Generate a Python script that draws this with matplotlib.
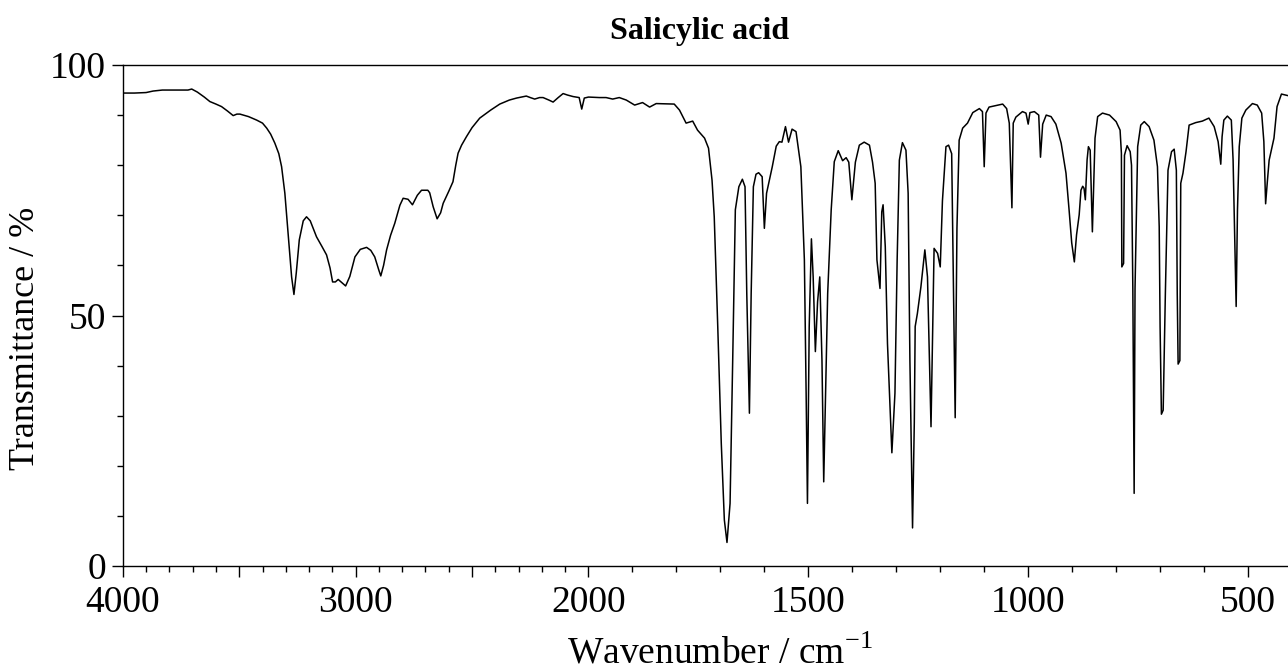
import matplotlib
matplotlib.use('Agg')
import matplotlib.pyplot as plt
import numpy as np
from matplotlib.ticker import FixedLocator, NullFormatter

plt.rcParams['font.family'] = ['Liberation Serif', 'DejaVu Serif']
plt.rcParams['mathtext.fontset'] = 'custom'
plt.rcParams['mathtext.rm'] = 'Liberation Serif'

# spectrum (wavenumber / cm-1, transmittance / %)
wavenumber = [
    4000, 3950, 3900, 3870, 3830, 3760, 3720, 3704, 3680, 3650, 3626, 3600, 3576, 3550,
    3526, 3510, 3497, 3460, 3425, 3400, 3382, 3365, 3347, 3330, 3318, 3304, 3290, 3275,
    3265, 3255, 3242, 3225, 3211, 3195, 3168, 3145, 3125, 3110, 3099, 3087, 3075, 3060,
    3043, 3025, 3003, 2980, 2953, 2935, 2918, 2900, 2892, 2880, 2867, 2850, 2832, 2810,
    2796, 2775, 2756, 2735, 2717, 2690, 2682, 2667, 2650, 2635, 2624, 2600, 2582, 2570,
    2560, 2545, 2524, 2500, 2467, 2420, 2381, 2340, 2309, 2267, 2250, 2231, 2210, 2195,
    2170, 2152, 2130, 2109, 2090, 2066, 2040, 2029, 2018, 2000, 1975, 1960, 1945, 1930,
    1914, 1895, 1877, 1861, 1846, 1805, 1793, 1778, 1763, 1752, 1736, 1727, 1719, 1714,
    1706, 1698, 1691, 1685, 1678, 1672, 1666, 1658, 1650, 1644, 1640, 1634, 1630, 1625,
    1619, 1613, 1605, 1600, 1595, 1582, 1573, 1566, 1560, 1552, 1545, 1537, 1528, 1517,
    1509, 1505, 1502, 1498, 1493, 1489, 1484, 1479, 1474, 1469, 1465, 1456, 1448, 1441,
    1432, 1422, 1414, 1408, 1401, 1393, 1384, 1373, 1361, 1354, 1348, 1344, 1337, 1333,
    1330, 1325, 1320, 1310, 1303, 1298, 1293, 1286, 1278, 1273, 1269, 1263, 1259, 1257,
    1252, 1244, 1235, 1229, 1221, 1214, 1206, 1200, 1195, 1187, 1181, 1174, 1170, 1166,
    1162, 1157, 1149, 1138, 1126, 1111, 1104, 1100, 1096, 1089, 1073, 1058, 1049, 1043,
    1037, 1034, 1028, 1013, 1005, 1000, 996, 986, 976, 972, 967, 959, 948, 937,
    925, 914, 907, 901, 895, 890, 884, 880, 876, 873, 870, 866, 863, 859,
    854, 848, 842, 831, 815, 800, 791, 788, 787, 783, 781, 775, 768, 765,
    762, 759, 757, 751, 744, 736, 725, 714, 706, 702, 700, 697, 693, 688,
    682, 674, 668, 663, 661, 659, 655, 653, 648, 641, 634, 619, 604, 589,
    577, 568, 562, 559, 555, 547, 538, 534, 527, 524, 520, 514, 505, 490,
    479, 469, 464, 460, 456, 452, 441, 434, 424, 415, 405,
]
transmittance = [
    94.4, 94.4, 94.5, 94.8, 95.0, 95.0, 95.0, 95.2, 94.6, 93.6, 92.7, 92.2, 91.7, 90.8,
    89.9, 90.2, 90.2, 89.7, 89.0, 88.4, 87.4, 86.2, 84.4, 82.3, 79.7, 74.4, 66.4, 57.7,
    54.2, 58.5, 65.1, 68.9, 69.7, 68.9, 65.7, 63.8, 62.1, 59.5, 56.7, 56.7, 57.2, 56.6,
    55.9, 57.8, 61.7, 63.2, 63.6, 63.0, 61.7, 59.0, 57.9, 60.0, 63.1, 66.0, 68.4, 72.0,
    73.4, 73.2, 72.1, 74.0, 75.0, 75.0, 74.5, 71.7, 69.3, 70.5, 72.4, 74.8, 76.7, 80.0,
    82.4, 84.0, 85.7, 87.5, 89.4, 91.0, 92.2, 93.0, 93.4, 93.8, 93.5, 93.2, 93.5, 93.5,
    93.0, 92.6, 93.5, 94.3, 94.0, 93.7, 93.5, 91.2, 93.4, 93.6, 93.5, 93.5, 93.2, 93.5,
    93.0, 92.0, 92.5, 91.6, 92.3, 92.2, 91.0, 88.4, 88.8, 87.0, 85.4, 83.4, 77.0, 69.7,
    47.8, 24.5, 9.2, 4.7, 12.5, 41.1, 71.1, 75.7, 77.2, 75.7, 54.4, 30.5, 54.4, 75.7,
    78.2, 78.5, 77.7, 67.4, 74.4, 79.7, 83.8, 84.7, 84.6, 87.7, 84.6, 87.2, 86.7, 79.7,
    61.1, 34.5, 12.5, 47.8, 65.3, 57.7, 42.8, 52.7, 57.7, 41.1, 16.8, 54.4, 71.1, 80.7,
    82.9, 80.9, 81.5, 80.6, 73.1, 80.6, 84.0, 84.6, 84.0, 80.6, 76.4, 61.1, 55.4, 70.7,
    72.1, 63.7, 44.4, 22.6, 34.5, 61.1, 81.0, 84.5, 83.0, 74.4, 41.1, 7.6, 28.6, 47.8,
    50.4, 55.7, 63.1, 57.7, 27.8, 63.4, 62.4, 59.7, 72.9, 83.7, 84.0, 82.3, 55.4, 29.6,
    67.4, 85.0, 87.4, 88.4, 90.5, 91.3, 90.7, 79.7, 90.4, 91.6, 91.9, 92.2, 91.3, 88.4,
    71.5, 88.4, 89.6, 90.7, 90.4, 88.2, 90.5, 90.7, 90.0, 81.6, 88.2, 90.0, 89.7, 88.2,
    84.4, 78.4, 71.1, 64.5, 60.7, 66.1, 70.1, 75.0, 75.8, 75.4, 73.1, 81.1, 83.7, 83.0,
    66.7, 85.4, 89.7, 90.4, 90.0, 88.7, 87.0, 82.4, 59.7, 60.4, 82.0, 83.9, 82.7, 80.0,
    55.4, 14.5, 55.4, 83.7, 88.0, 88.7, 87.7, 85.0, 79.7, 67.7, 47.8, 30.3, 31.1, 54.4,
    79.0, 82.7, 83.2, 79.0, 54.4, 40.3, 41.0, 76.4, 78.4, 82.7, 88.0, 88.5, 88.8, 89.4,
    87.7, 84.7, 80.2, 85.7, 89.0, 89.8, 89.0, 81.1, 51.8, 71.1, 83.7, 89.4, 91.0, 92.3,
    92.0, 90.4, 84.7, 72.3, 76.8, 81.0, 85.4, 91.7, 94.2, 94.0, 93.8,
]

x_major = [4000, 3500, 3000, 2500, 2000, 1500, 1000, 500]
x_labels = ['4000', '', '3000', '', '2000', '1500', '1000', '500']
y_major = [0, 50, 100]

# wavenumber axis changes scale at 2000 cm-1
K = 0.233 / 0.44
def fwd(w):
    w = np.asarray(w, dtype=float)
    return np.where(w <= 2000, w, 2000 + (w - 2000) * K)
def inv(u):
    u = np.asarray(u, dtype=float)
    return np.where(u <= 2000, u, 2000 + (u - 2000) / K)

W, H = 1288, 671
fig = plt.figure(figsize=(W / 100, H / 100), dpi=100)
left, right, top, bottom = 122.8, 1292, 65, 566
ax = fig.add_axes([left / W, 1 - bottom / H, (right - left) / W, (bottom - top) / H])

ax.plot(wavenumber, transmittance, color='black', lw=1.1)

ax.set_xscale('function', functions=(fwd, inv))
ax.set_xlim(4000, 400)
ax.set_ylim(0, 100)

ax.xaxis.set_major_locator(FixedLocator(x_major))
ax.set_xticklabels(x_labels)
ax.xaxis.set_minor_locator(FixedLocator(np.arange(500, 4000, 100)))
ax.xaxis.set_minor_formatter(NullFormatter())
ax.yaxis.set_major_locator(FixedLocator(y_major))
ax.yaxis.set_minor_locator(FixedLocator(np.arange(10, 100, 10)))

ax.tick_params(which='major', length=8, width=1, labelsize=27, direction='out')
ax.tick_params(which='minor', length=4.5, width=1, direction='out')
ax.tick_params(axis='x', which='major', pad=6)
ax.tick_params(axis='y', which='major', pad=4)
ax.spines['right'].set_visible(False)
for s in ['left', 'bottom', 'top']:
    ax.spines[s].set_linewidth(1)

fig.text(700 / W, 1 - 32 / H, 'Salicylic acid', ha='center', va='center',
         fontsize=23, fontweight='bold')
fig.text(720 / W, 1 - 653 / H, r'Wavenumber / cm$^{\mathrm{-1}}$', ha='center', va='center',
         fontsize=27)
fig.text(26 / W, 1 - 338 / H, 'Transmittance / %', ha='center', va='center',
         rotation=90, fontsize=26)

fig.savefig('out.png', dpi=100)
